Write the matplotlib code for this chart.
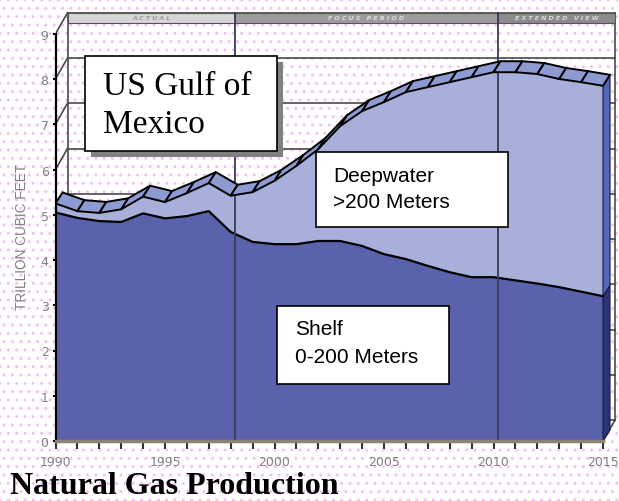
import matplotlib
matplotlib.use('Agg')
import matplotlib.pyplot as plt
from matplotlib.patches import Polygon, Rectangle
import numpy as np

# values (trillion cubic feet)
years = list(range(1990, 2016))
shelf = [5.05, 4.93, 4.86, 4.84, 5.03, 4.92, 4.97, 5.08, 4.62, 4.40, 4.35, 4.35, 4.42,
         4.42, 4.31, 4.13, 4.02, 3.87, 3.73, 3.62, 3.62, 3.55, 3.48, 3.40, 3.30, 3.20]
deepwater = [0.20, 0.15, 0.18, 0.28, 0.37, 0.36, 0.51, 0.62, 0.80, 1.10, 1.40, 1.73, 2.03,
             2.54, 2.98, 3.36, 3.69, 3.95, 4.20, 4.42, 4.53, 4.60, 4.63, 4.60, 4.63, 4.65]
periods = ['A C T U A L', 'F O C U S   P E R I O D', 'E X T E N D E D   V I E W']
period_breaks = [1998.2, 2010.2]
y_ticks = list(range(0, 10))
x_major = [1990, 1995, 2000, 2005, 2010, 2015]

W, H = 619, 502
fig = plt.figure(figsize=(W / 100, H / 100), dpi=100)
fig.patch.set_facecolor('white')


def fpx(x, y):
    # pixel position (from top left) -> figure fraction
    return x / W, 1 - y / H


# dotted pink background
bg = fig.add_axes([0, 0, 1, 1], zorder=-5)
bg.axis('off')
bg.add_patch(Rectangle((0, 0), 1, 1, transform=bg.transAxes, facecolor='white',
                       edgecolor='#f1c3ee', hatch='..', lw=0))

ppy, ppu = 21.9, 45.25
ax = fig.add_axes([55.5 / W, (H - 442) / H, 25.6 * ppy / W, 9.5 * ppu / H])
ax.set_facecolor('none')
ax.set_xlim(1990, 2015.6)
ax.set_ylim(0, 9.5)

bx, by = 12 / ppy, 21 / ppu      # depth of the back wall
sdx, sdy = 7 / ppy, 11 / ppu     # depth of the series
x0, x1 = years[0], years[-1]
ytop = y_ticks[-1]

total = np.array(shelf) + np.array(deepwater)
yrs = np.array(years, dtype=float)

grid_c = '#4a4a4a'
# back wall grid, left side wall and floor edges
for k in y_ticks:
    ax.plot([x0 + bx, x1 + bx], [k + by, k + by], color=grid_c, lw=1.2, zorder=1)
    ax.plot([x0, x0 + bx], [k, k + by], color=grid_c, lw=1.2, zorder=1)
    ax.plot([x1 + bx, x1 + bx + 0.12], [k + by, k + by], color=grid_c, lw=1, zorder=1)
ax.plot([x0 + bx, x0 + bx], [by, ytop + by], color=grid_c, lw=1.2, zorder=1)
ax.plot([x1 + bx, x1 + bx], [by, ytop + by], color=grid_c, lw=1.2, zorder=1)
ax.plot([x1, x1 + bx], [0, by], color=grid_c, lw=1.2, zorder=1)

# period band at the top of the back wall
band_h = 10 / ppu
edges = [x0 + bx] + period_breaks + [x1 + bx]
band_cols = ['#d6d6d6', '#9c9c9c', '#8c8c8c']
text_cols = ['#9a9a9a', '#dcdcdc', '#dcdcdc']
for i, name in enumerate(periods):
    ax.add_patch(Rectangle((edges[i], ytop + by - band_h), edges[i + 1] - edges[i], band_h,
                           facecolor=band_cols[i], edgecolor='#555555', lw=0.8, zorder=1.5))
    ax.text((edges[i] + edges[i + 1]) / 2, ytop + by - band_h / 2, name, fontsize=4.5,
            style='italic', fontweight='bold', color=text_cols[i], ha='center', va='center',
            zorder=1.6)

# areas
shelf_c = '#5a62ac'
deep_c = '#a8afda'
ax.fill_between(yrs, 0, shelf, color=shelf_c, lw=0, zorder=2)
ax.fill_between(yrs, shelf, total, color=deep_c, lw=0, zorder=2)
ax.plot(yrs, shelf, color='black', lw=1.6, zorder=2.2)

# right side faces of the series
ax.add_patch(Polygon([(x1, 0), (x1, shelf[-1]), (x1 + sdx, shelf[-1] + sdy), (x1 + sdx, sdy)],
                     closed=True, facecolor='#2a3478', edgecolor='#1a1a40', lw=0.8, zorder=2))
ax.add_patch(Polygon([(x1, shelf[-1]), (x1, total[-1]), (x1 + sdx, total[-1] + sdy),
                      (x1 + sdx, shelf[-1] + sdy)],
                     closed=True, facecolor='#5666b8', edgecolor='#1a1a40', lw=0.8, zorder=2))

# period dividers
for xb in period_breaks:
    ax.plot([xb, xb], [0, ytop + by], color='#3a3a55', lw=1.3, zorder=2.5)

# top ribbon of the stack
for i in range(len(years) - 1):
    quad = [(yrs[i], total[i]), (yrs[i + 1], total[i + 1]),
            (yrs[i + 1] + sdx, total[i + 1] + sdy), (yrs[i] + sdx, total[i] + sdy)]
    ax.add_patch(Polygon(quad, closed=True, facecolor='#8e9ad2', edgecolor='black',
                         lw=1.4, zorder=3))

# axes
for s in ['top', 'right']:
    ax.spines[s].set_visible(False)
ax.spines['left'].set_bounds(0, ytop)
ax.spines['left'].set_linewidth(1.6)
ax.spines['bottom'].set_bounds(x0, x1)
ax.spines['bottom'].set_linewidth(2.5)
ax.spines['bottom'].set_color('#8a8472')
ax.set_yticks(y_ticks)
ax.set_xticks(x_major)
ax.set_xticks(years, minor=True)
ax.tick_params(axis='y', length=2, width=1.5, pad=3, labelsize=9, labelcolor='#808080')
ax.tick_params(axis='x', which='both', length=6, width=1.5, pad=4, labelsize=9,
               labelcolor='#808080', color='#333333')

fig.text(*fpx(22, 237), 'TRILLION CUBIC FEET', rotation=90, ha='center', va='center',
         fontsize=9.8, color='#808080', family='Liberation Sans')


# text boxes
def box(x, y, w, h):
    fig.add_artist(Rectangle(fpx(x, y + h), w / W, h / H, transform=fig.transFigure,
                             facecolor='white', edgecolor='black', lw=1.2, zorder=6))


fig.add_artist(Rectangle(fpx(91, 158), 192 / W, 95 / H, transform=fig.transFigure,
                         facecolor='#808080', edgecolor='none', zorder=5))
box(85, 57, 192, 95)
fig.text(*fpx(103, 95), 'US Gulf of', fontsize=24, family='Liberation Serif',
         va='baseline', zorder=7)
fig.text(*fpx(103, 133), 'Mexico', fontsize=24, family='Liberation Serif',
         va='baseline', zorder=7)

box(316, 153, 192, 75)
fig.text(*fpx(333, 182), 'Deepwater', fontsize=15, family='Liberation Sans',
         va='baseline', zorder=7)
fig.text(*fpx(333, 208), '>200 Meters', fontsize=15, family='Liberation Sans',
         va='baseline', zorder=7)

box(277, 307, 172, 78)
fig.text(*fpx(295, 335), 'Shelf', fontsize=15, family='Liberation Sans',
         va='baseline', zorder=7)
fig.text(*fpx(295, 363), '0-200 Meters', fontsize=15, family='Liberation Sans',
         va='baseline', zorder=7)

fig.text(*fpx(10, 494), 'Natural Gas Production', fontsize=23, fontweight='bold',
         family='Liberation Serif', va='baseline')

fig.savefig('out.png', dpi=100)
